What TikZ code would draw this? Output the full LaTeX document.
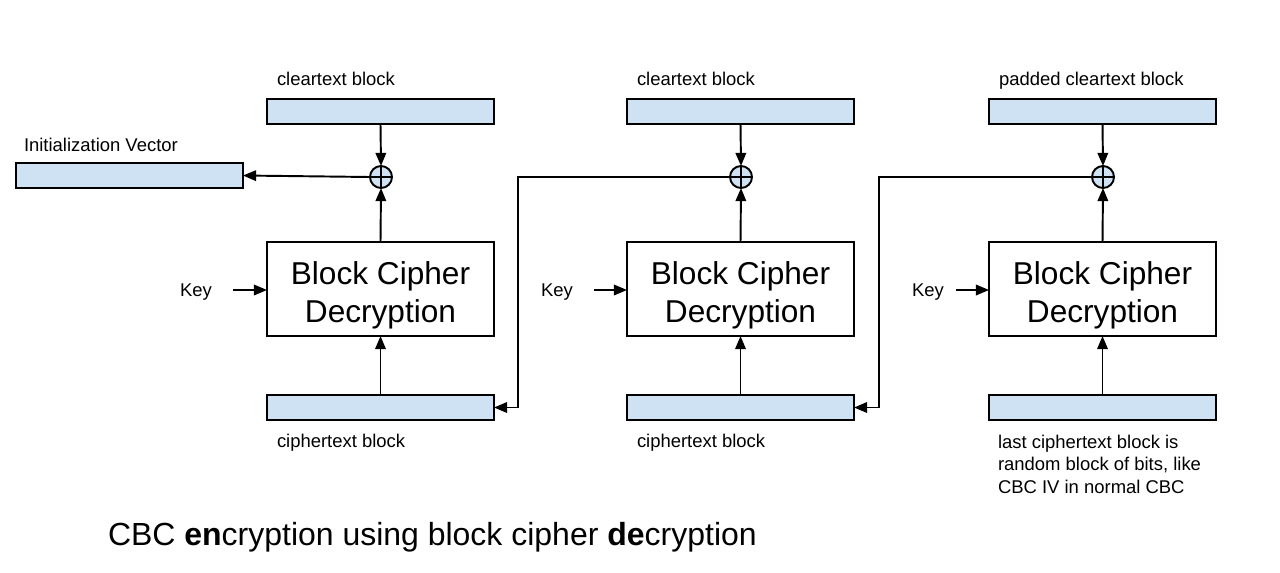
\documentclass[tikz,border=0pt]{standalone}
\usepackage{fontspec}
\setmainfont{Liberation Sans}
\usetikzlibrary{arrows.meta}
\definecolor{blk}{HTML}{CFE2F3}
\begin{document}
\begin{tikzpicture}[x=0.02cm,y=-0.02cm,
  every node/.style={inner sep=0pt,outer sep=0pt},
  datablk/.style={draw,line width=1.1pt,fill=blk,minimum width=4.54cm,minimum height=0.5cm},
  cipherbox/.style={draw,line width=0.8pt,fill=white,minimum width=4.54cm,minimum height=1.88cm,
    label={[font=\fontsize{18}{21.6}\selectfont,align=center,yshift=-3.4pt]center:Block Cipher\\Decryption}},
  xorc/.style={draw,line width=1.1pt,fill=blk,circle,minimum size=0.44cm,path picture={\draw[line width=0.9pt] (path picture bounding box.north)--(path picture bounding box.south) (path picture bounding box.west)--(path picture bounding box.east);}},
  lbl/.style={font=\fontsize{10.5}{12.8}\selectfont},
  conn/.style={line width=1.1pt,-{Triangle[length=7.5pt,width=6pt]}}
]
\useasboundingbox (0,0) rectangle (1280,572);

% stage 1
\node[datablk] (c1) at (380.5,111.5) {};
\node[xorc] (x1) at (381,177) {};
\node[datablk] (iv) at (129.5,175.5) {};
\node[cipherbox] (b1) at (380.5,289) {};
\node[datablk] (p1) at (380.5,407.5) {};
\node[lbl,anchor=base west] (lc1) at (277,85) {cleartext block};
\node[lbl,anchor=base west] (liv) at (24,151) {Initialization Vector};
\node[lbl,anchor=base west] (lp1) at (277,447) {ciphertext block};
\node[lbl,anchor=base west] (k1) at (180,296) {Key};
\coordinate (k1e) at (233,290);

% stage 2
\node[datablk] (c2) at (740.5,111.5) {};
\node[xorc] (x2) at (741,177) {};
\node[cipherbox] (b2) at (740.5,289) {};
\node[datablk] (p2) at (740.5,407.5) {};
\node[lbl,anchor=base west] (lc2) at (637,85) {cleartext block};
\node[lbl,anchor=base west] (lp2) at (637,447) {ciphertext block};
\node[lbl,anchor=base west] (k2) at (541,296) {Key};
\coordinate (k2e) at (594,290);

% stage 3
\node[datablk] (c3) at (1102.5,111.5) {};
\node[xorc] (x3) at (1103,177) {};
\node[cipherbox] (b3) at (1102.5,289) {};
\node[datablk] (p3) at (1102.5,407.5) {};
\node[lbl,anchor=base west] (lc3) at (999,85) {padded cleartext block};
\node[lbl,anchor=north west,align=left] (lp3) at (998,435) {last ciphertext block is\\random block of bits, like\\CBC IV in normal CBC};
\node[lbl,anchor=base west] (k3) at (912,296) {Key};
\coordinate (k3e) at (956,290);

% title
\node[anchor=base west,font=\fontsize{18.2}{21.8}\selectfont] (title) at (108,545) {CBC \textbf{en}cryption using block cipher \textbf{de}cryption};

% connectors
\foreach \i in {1,2,3}{
  \draw[conn] (c\i.south) -- (x\i.north);
  \draw[conn] (b\i.north) -- (x\i.south);
  \draw[conn] (p\i.north) -- (b\i.south);
  \draw[conn] (k\i e) -- (b\i.west |- k\i e);
}
\draw[conn] (x1.west) -- (iv.east);
\coordinate (j2a) at (518,177);
\coordinate (j2b) at (518,407.5);
\draw[conn] (x2.west) -- (j2a) -- (j2b) -- (p1.east);
\coordinate (j3a) at (879,177);
\coordinate (j3b) at (879,407.5);
\draw[conn] (x3.west) -- (j3a) -- (j3b) -- (p2.east);
\end{tikzpicture}
\end{document}
